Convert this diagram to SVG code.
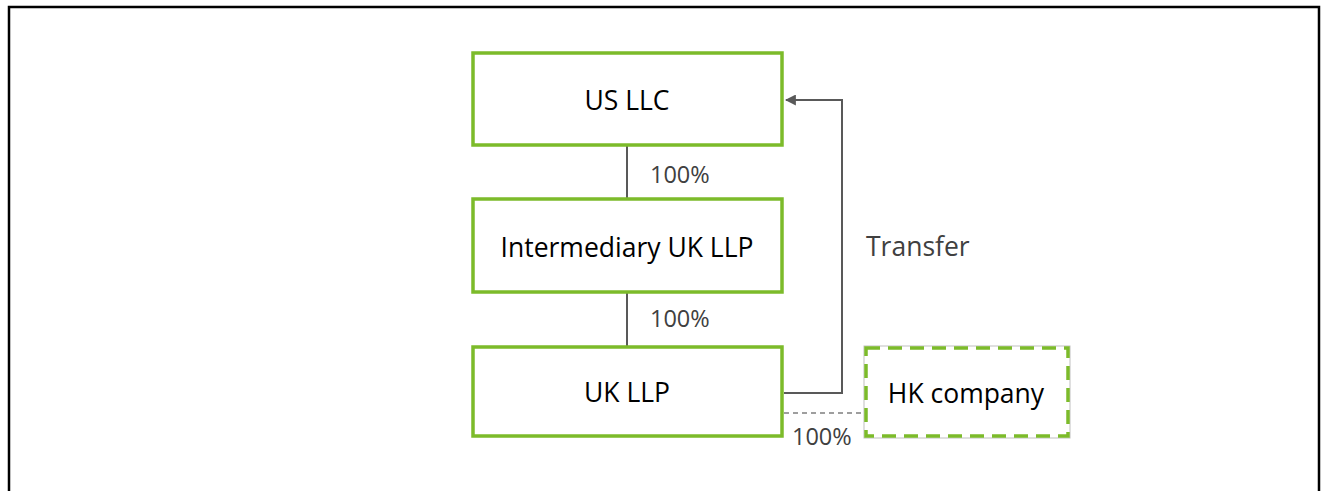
<svg xmlns="http://www.w3.org/2000/svg" width="1321" height="491" viewBox="0 0 1321 491">
<style>
.node{fill:#fff;stroke:#7cbb2a;stroke-width:3.5}
.lbl{font-family:"Open Sans","Liberation Sans",sans-serif;font-size:26.5px;fill:#000;text-anchor:middle}
.pct{font-family:"Open Sans","Liberation Sans",sans-serif;font-size:23.5px;fill:#404040}
.conn{stroke:#595959;stroke-width:2;fill:none}
</style>
<defs>
<marker id="arr" viewBox="0 0 10 10" refX="9" refY="5" markerWidth="11" markerHeight="11" orient="auto-start-reverse" markerUnits="userSpaceOnUse">
<path d="M0,0 L10,5 L0,10 z" fill="#595959"/>
</marker>
</defs>
<rect x="0" y="0" width="1321" height="491" fill="#fff"/>
<path d="M9,491 V7 H1319 V491" fill="none" stroke="#000" stroke-width="2.5"/>
<g id="connectors">
<line class="conn" x1="627" y1="146" x2="627" y2="198" stroke-width="1.5"/>
<line class="conn" x1="627" y1="293" x2="627" y2="346" stroke-width="1.5"/>
<polyline class="conn" points="784,393 842,393 842,100 786,100" marker-end="url(#arr)"/>
<line x1="784" y1="413" x2="864" y2="413" stroke="#7f7f7f" stroke-width="1.5" stroke-dasharray="5,4"/>
<text class="pct" x="650" y="183">100%</text>
<text class="pct" x="650" y="327">100%</text>
<text class="pct" x="792" y="445">100%</text>
<text class="pct" x="866" y="256" style="font-size:26.5px">Transfer</text>
</g>
<g id="us-llc">
<rect class="node" x="473" y="53" width="309" height="92"/>
<text class="lbl" x="627" y="110">US LLC</text>
</g>
<g id="intermediary-uk-llp">
<rect class="node" x="473" y="199" width="309" height="93"/>
<text class="lbl" x="627" y="257">Intermediary UK LLP</text>
</g>
<g id="uk-llp">
<rect class="node" x="473" y="347" width="309" height="89"/>
<text class="lbl" x="627" y="402">UK LLP</text>
</g>
<g id="hk-company">
<rect x="864" y="346" width="206" height="92" fill="#fff" stroke="#bfbfbf" stroke-width="1"/>
<rect x="866" y="348" width="202" height="88" fill="none" stroke="#7cbb2a" stroke-width="3.5" stroke-dasharray="14,8"/>
<text class="lbl" x="966" y="403">HK company</text>
</g>
</svg>
